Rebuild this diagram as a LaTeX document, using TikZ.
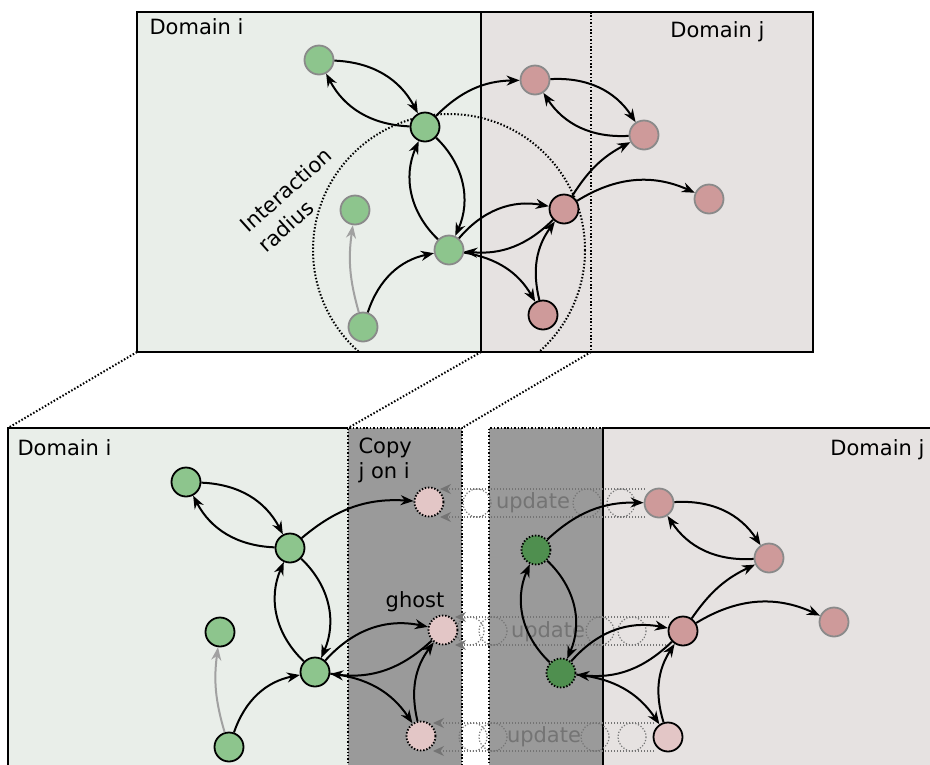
\documentclass[tikz,border=0pt]{standalone}
\usepackage{fontspec}
\setmainfont{DejaVu Sans}
\usetikzlibrary{arrows.meta}
\definecolor{domi}{HTML}{E9EEE9}
\definecolor{domj}{HTML}{E6E2E1}
\definecolor{strip}{HTML}{9A9A9A}
\definecolor{ngreen}{HTML}{8DC58D}
\definecolor{npink}{HTML}{CE9A9A}
\definecolor{lpink}{HTML}{E3C6C6}
\definecolor{dgreen}{HTML}{4F8F4F}
\definecolor{gborder}{HTML}{8A8A8A}
\definecolor{updgray}{HTML}{747474}
\begin{document}
\begin{tikzpicture}[x=1pt,y=-1pt,
  every node/.style={font=\fontsize{21}{27}\selectfont},
  part/.style={circle, minimum size=29pt, inner sep=0pt, line width=1.8pt},
  gp/.style={part, fill=ngreen, draw=gborder},
  gpb/.style={part, fill=ngreen, draw=black},
  pp/.style={part, fill=npink, draw=gborder},
  ppb/.style={part, fill=npink, draw=black},
  lpb/.style={part, fill=lpink, draw=black},
  ghostp/.style={part, fill=lpink, draw=black, line width=1.9pt, dash pattern=on 1.4pt off 1.8pt},
  ghostg/.style={part, fill=dgreen, draw=black, line width=1.9pt, dash pattern=on 1.4pt off 1.8pt},
  link/.style={line width=2pt, -{Stealth[length=13pt,width=10pt]}},
  glink/.style={link, draw=gborder!80, -{Stealth[length=13pt,width=10pt,fill=gborder!80]}},
  dotline/.style={line width=2pt, dash pattern=on 1.5pt off 1.9pt},
  frame/.style={line width=2.2pt},
  updline/.style={draw=updgray, line width=1.2pt, dash pattern=on 1.2pt off 1.8pt,
     -{Stealth[length=11pt,width=10pt,fill=updgray]}},
  updcirc/.style={draw=updgray, line width=1.2pt, dash pattern=on 1.2pt off 1.8pt},
  updtext/.style={text=updgray, anchor=base},
]
\useasboundingbox (0,0) rectangle (930,764);
\clip (0,0) rectangle (930,764);

% ---------- top panel ----------
\fill[domi] (137,12) rectangle (481,352);
\fill[domj] (481,12) rectangle (813,352);
\begin{scope}
  \clip (137,12) rectangle (813,352);
  \draw[dotline] (449,250) circle[radius=136];
\end{scope}
\draw[dotline] (591,12) -- (591,352);
\draw[frame] (481,12) -- (481,352);
\draw[frame] (137,12) rectangle (813,352);

% ---------- projection lines ----------
\coordinate (tbl) at (137,352);
\coordinate (tmid) at (481,352);
\coordinate (tdot) at (591,352);
\coordinate (bbl) at (8,428);
\coordinate (bcl) at (348,428);
\coordinate (bcr) at (462,428);
\draw[dotline] (tbl) -- (bbl);
\draw[dotline] (tmid) -- (bcl);
\draw[dotline] (tdot) -- (bcr);

% ---------- bottom panel ----------
\fill[domi] (8,428) rectangle (348,770);
\fill[strip] (348,428) rectangle (462,770);
\fill[strip] (489,428) rectangle (603,770);
\fill[domj] (603,428) rectangle (935,770);
\draw[frame] (8,770) -- (8,428) -- (348,428);
\draw[dotline] (348,770) -- (348,428) -- (462,428) -- (462,770);
\draw[dotline] (489,770) -- (489,428) -- (603,428);
\draw[frame] (603,770) -- (603,428) -- (935,428);

% ---------- update rows ----------
% row 1
\draw[updcirc] (477,503) circle[radius=14];
\draw[updcirc] (587,503) circle[radius=14];
\draw[updcirc] (621,503) circle[radius=14];
\draw[updline] (645,489) -- (440,489);
\draw[updline] (645,517) -- (440,517);
\node[updtext] (upd1) at (533,508) {update};
% row 2
\draw[updcirc] (470,631) circle[radius=14];
\draw[updcirc] (493,631) circle[radius=14];
\draw[updcirc] (600,631) circle[radius=14];
\draw[updcirc] (632,631) circle[radius=14];
\draw[updline] (669,617) -- (455,617);
\draw[updline] (669,645) -- (455,645);
\node[updtext] (upd2) at (548,637) {update};
% row 3
\draw[updcirc] (473,737) circle[radius=14];
\draw[updcirc] (493,737) circle[radius=14];
\draw[updcirc] (595,737) circle[radius=14];
\draw[updcirc] (632,737) circle[radius=14];
\draw[updline] (654,723) -- (433,723);
\draw[updline] (654,751) -- (433,751);
\node[updtext] (upd3) at (544,742) {update};

% ---------- top nodes ----------
\node[gp]  (a1) at (319,60) {};
\node[gpb] (a2) at (425,127) {};
\node[gp]  (a3) at (355,210) {};
\node[gp]  (a4) at (449,250) {};
\node[gp]  (a5) at (363,327) {};
\node[pp]  (b1) at (535,80) {};
\node[pp]  (b2) at (644,135) {};
\node[ppb] (b3) at (564,209) {};
\node[pp]  (b4) at (709,199) {};
\node[ppb] (b5) at (543,315) {};

\draw[link] (a1) to[bend left=30] (a2);
\draw[link] (a2) to[bend left=30] (a1);
\draw[link] (a2) to[bend left=22] (b1);
\draw[link] (a2) to[bend left=35] (a4);
\draw[link] (a4) to[bend left=35] (a2);
\draw[link] (a5) to[bend left=30] (a4);
\draw[glink] (a5) to[bend left=12] (a3);
\draw[link] (a4) to[bend left=30] (b3);
\draw[link] (b3) to[bend left=25] (a4);
\draw[link] (a4) to[bend left=25] (b5);
\draw[link] (b5) to[bend left=25] (b3);
\draw[link] (b1) to[bend left=30] (b2);
\draw[link] (b2) to[bend left=30] (b1);
\draw[link] (b3) to[bend left=15] (b2);
\draw[link] (b3) to[bend left=28] (b4);

% ---------- bottom nodes ----------
\node[gpb] (c1) at (186,482) {};
\node[gpb] (c2) at (290,548) {};
\node[gpb] (c3) at (220,632) {};
\node[gpb] (c4) at (315,672) {};
\node[gpb] (c5) at (229,747) {};
\node[ghostp] (g1) at (429,502) {};
\node[ghostp] (g2) at (443,630) {};
\node[ghostp] (g3) at (421,736) {};
\node[ghostg] (e1) at (536,550) {};
\node[ghostg] (e2) at (561,673) {};
\node[pp]  (d1) at (659,503) {};
\node[pp]  (d2) at (769,558) {};
\node[ppb] (d3) at (683,631) {};
\node[pp]  (d4) at (834,622) {};
\node[lpb] (d5) at (668,737) {};

\draw[link] (c1) to[bend left=30] (c2);
\draw[link] (c2) to[bend left=30] (c1);
\draw[link] (c2) to[bend left=22] (g1);
\draw[link] (c2) to[bend left=35] (c4);
\draw[link] (c4) to[bend left=35] (c2);
\draw[link] (c5) to[bend left=30] (c4);
\draw[glink] (c5) to[bend left=12] (c3);
\draw[link] (c4) to[bend left=30] (g2);
\draw[link] (g2) to[bend left=25] (c4);
\draw[link] (c4) to[bend left=25] (g3);
\draw[link] (g3) to[bend left=25] (g2);

\draw[link] (d1) to[bend left=30] (d2);
\draw[link] (d2) to[bend left=30] (d1);
\draw[link] (d3) to[bend left=15] (d2);
\draw[link] (d3) to[bend left=28] (d4);
\draw[link] (e1) to[bend left=22] (d1);
\draw[link] (e1) to[bend left=35] (e2);
\draw[link] (e2) to[bend left=35] (e1);
\draw[link] (e2) to[bend left=30] (d3);
\draw[link] (d3) to[bend left=25] (e2);
\draw[link] (e2) to[bend left=25] (d5);
\draw[link] (d5) to[bend left=25] (d3);

% ---------- texts ----------
\node[anchor=base west] (tdi) at (146,34) {Domain i};
\node[anchor=base east] (tdj) at (768,37) {Domain j};
\node[rotate=42, align=left] (irad) at (295,200) {Interaction\\radius};
\node[anchor=base west] (bdi) at (14,455) {Domain i};
\node[anchor=base east] (bdj) at (928,455.5) {Domain j};
\node[anchor=base west] (copy1) at (355,453) {Copy};
\node[anchor=base west] (copy2) at (355,478) {j on i};
\node[anchor=base] (ghost) at (415,607) {ghost};
\end{tikzpicture}
\end{document}
